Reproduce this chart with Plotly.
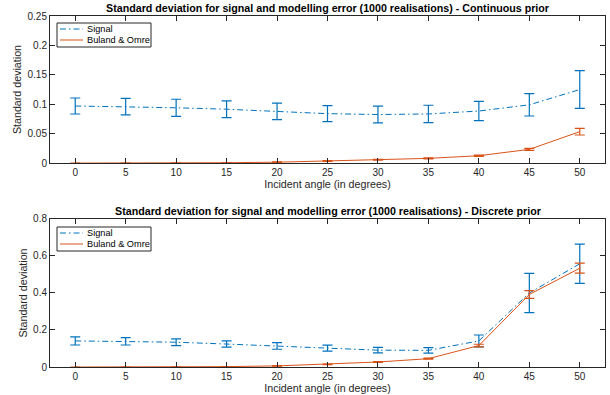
import plotly.graph_objects as go
from plotly.subplots import make_subplots

angles = [0, 5, 10, 15, 20, 25, 30, 35, 40, 45, 50]

# Continuous prior
cont_signal = [0.097, 0.096, 0.094, 0.0915, 0.088, 0.084, 0.0825, 0.0835, 0.0885, 0.099, 0.125]
cont_signal_err = [0.0136, 0.014, 0.0145, 0.0143, 0.014, 0.0136, 0.0143, 0.0148, 0.0165, 0.019, 0.032]
cont_bo = [0.0, 0.0, 0.0002, 0.0006, 0.0015, 0.0034, 0.0057, 0.008, 0.0125, 0.0233, 0.0534]
cont_bo_err = [0.0, 0.0, 0.0, 0.0003, 0.0005, 0.0006, 0.0007, 0.0008, 0.001, 0.0018, 0.0057]

# Discrete prior
disc_signal = [0.141, 0.139, 0.134, 0.124, 0.114, 0.102, 0.091, 0.090, 0.141, 0.400, 0.558]
disc_signal_err = [0.022, 0.020, 0.018, 0.017, 0.018, 0.016, 0.015, 0.015, 0.032, 0.106, 0.106]
disc_bo = [0.0, 0.0, 0.001, 0.002, 0.006, 0.0145, 0.027, 0.045, 0.116, 0.392, 0.534]
disc_bo_err = [0.0, 0.0, 0.0, 0.0005, 0.001, 0.0015, 0.002, 0.003, 0.007, 0.021, 0.027]

series_names = ["Signal", "Buland & Omre"]

blue = "#0072BD"
orange = "#D95319"
axis_col = "#262626"
font_fam = "Liberation Sans, Arial, sans-serif"
signal_dash = "6px,3px,1.5px,3px"

W, H = 610, 395
ML, MR, MT, MB = 50, 5, 16, 28

fig = make_subplots(rows=2, cols=1, vertical_spacing=0.16)

def add_pair(row, sig, sig_err, bo, bo_err):
    fig.add_trace(go.Scatter(
        x=angles, y=sig, mode="lines", name=series_names[0],
        line=dict(color=blue, width=1, dash=signal_dash),
        error_y=dict(type="data", array=sig_err, visible=True, color=blue, thickness=1.2, width=5),
    ), row=row, col=1)
    fig.add_trace(go.Scatter(
        x=angles, y=bo, mode="lines", name=series_names[1],
        line=dict(color=orange, width=1),
        error_y=dict(type="data", array=bo_err, visible=True, color=orange, thickness=1.2, width=5),
    ), row=row, col=1)

add_pair(1, cont_signal, cont_signal_err, cont_bo, cont_bo_err)
add_pair(2, disc_signal, disc_signal_err, disc_bo, disc_bo_err)

axis_common = dict(
    showline=True, linecolor=axis_col, linewidth=1, mirror="ticks",
    ticks="inside", ticklen=5, tickcolor=axis_col, tickwidth=1,
    showgrid=False, zeroline=False,
    tickfont=dict(family=font_fam, size=10, color=axis_col),
)
label_font = dict(family=font_fam, size=10.7, color=axis_col)

for r in (1, 2):
    fig.update_xaxes(range=[-2.5, 52.5], tickvals=angles, **axis_common,
                     title=dict(text="Incident angle (in degrees)", standoff=2, font=label_font),
                     row=r, col=1)

fig.update_yaxes(range=[0, 0.25], tickvals=[0, 0.05, 0.1, 0.15, 0.2, 0.25],
                 ticktext=["0", "0.05", "0.1", "0.15", "0.2", "0.25"], **axis_common,
                 title=dict(text="Standard deviation", standoff=3, font=label_font),
                 row=1, col=1)
fig.update_yaxes(range=[0, 0.8], tickvals=[0, 0.2, 0.4, 0.6, 0.8],
                 ticktext=["0", "0.2", "0.4", "0.6", "0.8"], **axis_common,
                 title=dict(text="Standard deviation", standoff=3, font=label_font),
                 row=2, col=1)

fig.update_layout(
    xaxis=dict(domain=[0, 1]), yaxis=dict(domain=[0.581, 1.0]),
    xaxis2=dict(domain=[0, 1]), yaxis2=dict(domain=[0, 0.4217]),
)

# manual MATLAB-style legends (pixel layout converted to paper coords)
def px(xp):
    return (xp - ML) / (W - ML - MR)

def py(yp):
    return (H - MB - yp) / (H - MT - MB)

def add_legend(top):
    fig.add_shape(type="rect", xref="paper", yref="paper",
                  x0=px(57), x1=px(151), y0=py(top), y1=py(top + 24),
                  line=dict(color=axis_col, width=1), fillcolor="white", layer="above")
    rows = [(top + 6, blue, signal_dash, series_names[0]),
            (top + 17, orange, "solid", series_names[1])]
    for yy, col, dash, name in rows:
        fig.add_shape(type="line", xref="paper", yref="paper",
                      x0=px(60), x1=px(83), y0=py(yy), y1=py(yy),
                      line=dict(color=col, width=1, dash=dash), layer="above")
        fig.add_annotation(text=name, xref="paper", yref="paper",
                           x=px(84.5), y=py(yy), xanchor="left", yanchor="middle",
                           showarrow=False,
                           font=dict(family=font_fam, size=9.2, color="black"))

add_legend(23)
add_legend(227)

title_font = dict(family=font_fam, size=10.7, color="black")
fig.add_annotation(text="<b>Standard deviation for signal and modelling error (1000 realisations) - Continuous prior</b>",
                   xref="paper", yref="paper", x=0.5, y=1.0, yanchor="bottom", showarrow=False,
                   font=title_font, yshift=0)
fig.add_annotation(text="<b>Standard deviation for signal and modelling error (1000 realisations) - Discrete prior</b>",
                   xref="paper", yref="paper", x=0.5, y=0.4217, yanchor="bottom", showarrow=False,
                   font=title_font, yshift=0)

fig.update_layout(
    width=W, height=H,
    margin=dict(l=ML, r=MR, t=MT, b=MB),
    plot_bgcolor="white", paper_bgcolor="white",
    font=dict(family=font_fam, size=10, color=axis_col),
    showlegend=False,
)

fig.write_html("out.html")
